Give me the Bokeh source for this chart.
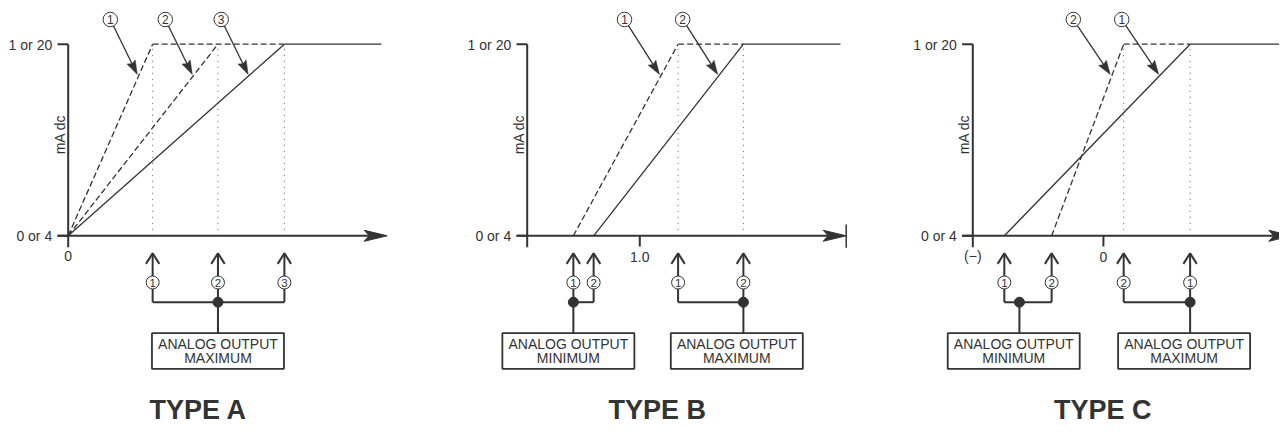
import math
from bokeh.plotting import figure
from bokeh.layouts import row
from bokeh.models import Range1d
from bokeh.embed import file_html
from bokeh.resources import INLINE
from bokeh.core.properties import value

# ---------------- data ----------------
Y_TICK_LABELS = ["0 or 4", "1 or 20"]
Y_TITLE = "mA dc"
BOX_TITLE = "ANALOG OUTPUT"
TYPE_NAMES = ["TYPE A", "TYPE B", "TYPE C"]

# input value where output leaves 0/4 mA (min) and reaches 1/20 mA (max)
TYPE_A_MIN = [0.0, 0.0, 0.0]
TYPE_A_MAX = [0.75, 1.33, 1.92]
TYPE_A_IDS = ["1", "2", "3"]

TYPE_B_MIN = [0.41, 0.59]
TYPE_B_MAX = [1.34, 1.92]
TYPE_B_IDS = ["1", "2"]

TYPE_C_MIN = [-0.88, -0.46]
TYPE_C_MAX = [0.77, 0.18]
TYPE_C_IDS = ["1", "2"]

AXIS_X = [0.0, 0.0, -1.16]          # where the vertical axis crosses
AXIS_X_LABELS = ["0", "", "(\u2212)"]
X_TICKS = [[], [1.0], [0.0]]
X_TICK_LABELS = [[], ["1.0"], ["0"]]
C_MIN_JOIN = -0.746

# ---------------- layout / style ----------------
SX, SY = 112.6, 191.6     # px per data unit
INK = "#333333"
DOT = "#555555"
FONT = value("Liberation Sans")


def dx(px):
    return px / SX


def dy(px):
    return px / SY


def head(tx, ty, ux, uy, length, half_w, notch):
    nx, ny = -uy, ux
    pts = [(0, 0),
           (-length * ux + half_w * nx, -length * uy + half_w * ny),
           (-(length - notch) * ux, -(length - notch) * uy),
           (-length * ux - half_w * nx, -length * uy - half_w * ny)]
    return [tx + dx(a) for a, b in pts], [ty + dy(b) for a, b in pts]


def txt(p, x, y, t, size="14px", align="center", baseline="middle", **kw):
    p.text(x=x, y=y, text=t, text_font=FONT, text_font_size=size,
           text_align=align, text_baseline=baseline, text_color=INK, **kw)


def panel(idx, mins, maxs, ids, left_px, width_px, groups, leader_dx, end_bar):
    ax = AXIS_X[idx]
    x0 = ax - dx(left_px)
    p = figure(width=width_px, height=424,
               x_range=Range1d(x0, x0 + dx(width_px)),
               y_range=Range1d(-dy(188.7), dy(235.3)),
               output_backend="svg", toolbar_location=None,
               x_axis_type=None, y_axis_type=None, min_border=0,
               outline_line_color=None, background_fill_color="white",
               border_fill_color="white")
    p.grid.visible = False

    # dotted guides at saturation points
    p.multi_line(xs=[[m, m] for m in maxs], ys=[[0, 1] for _ in maxs],
                 line_color=DOT, line_width=1, line_dash="1 5")

    # ramps
    widest = max(range(len(maxs)), key=lambda i: maxs[i])
    for i in range(len(maxs)):
        p.line([mins[i], maxs[i]], [0, 1], line_color=INK, line_width=1.3,
               line_dash="solid" if i == widest else "6 3")
    p.line([min(maxs), max(maxs)], [1, 1], line_color=INK, line_width=1.3,
           line_dash="6 3")
    p.line([max(maxs), ax + dx(313.3)], [1, 1], line_color=INK, line_width=1.3)

    # axes
    tip = ax + dx(319)
    p.line([ax - dx(10.7), tip - dx(12)], [0, 0], line_color=INK, line_width=2)
    p.line([ax, ax], [1, -dy(11.4)], line_color=INK, line_width=2)
    p.multi_line(xs=[[ax - dx(10.7), ax], [ax - dx(10.7), ax]], ys=[[0, 0], [1, 1]],
                 line_color=INK, line_width=2)
    hx, hy = head(tip, 0, 1, 0, 23, 5.5, 5)
    p.patch(hx, hy, fill_color=INK, line_color=INK, line_width=1)
    if end_bar:
        p.line([tip, tip], [dy(11.3), -dy(12)], line_color=INK, line_width=1.5)
    for t in X_TICKS[idx]:
        p.line([t, t], [0, -dy(10.7)], line_color=INK, line_width=2)
    txt(p, X_TICKS[idx], [-dy(21.4)] * len(X_TICKS[idx]), X_TICK_LABELS[idx])
    if AXIS_X_LABELS[idx]:
        txt(p, [ax], [-dy(20.5)], [AXIS_X_LABELS[idx]])
    txt(p, [ax - dx(16), ax - dx(16)], [0, 1 - dy(1)], Y_TICK_LABELS, align="right")
    txt(p, [ax - dx(8.4)], [dy(101.3)], [Y_TITLE], angle=math.pi / 2)

    # callouts with leaders
    ty = dy(161.3)
    for i in range(len(maxs)):
        tx = mins[i] + (maxs[i] - mins[i]) * ty - dx(2)
        vx, vy = leader_dx, -55.0
        n = math.hypot(vx, vy)
        ux, uy = vx / n, vy / n
        cx, cy = tx - dx(vx), ty - dy(vy)
        p.line([cx + dx(7 * ux), tx - dx(10 * ux)], [cy + dy(7 * uy), ty - dy(10 * uy)],
               line_color=INK, line_width=1.3)
        hx, hy = head(tx, ty, ux, uy, 14, 4.6, 2)
        p.patch(hx, hy, fill_color=INK, line_color=INK, line_width=0.5)
        p.scatter([cx], [cy], size=14.5, marker="circle", fill_color="white",
                  line_color=INK, line_width=1)
        txt(p, [cx], [cy], [ids[i]], size="12px")

    # setting groups below the axis
    y_tip, y_circ, y_bar = -dy(17.4), -dy(46.7), -dy(66.4)
    y_box_top, y_box = -dy(97.4), -dy(115.2)
    for label2, xs, gid, join_x, box_x in groups:
        for x in xs:
            p.line([x, x], [y_tip, y_bar], line_color=INK, line_width=2)
            p.line([x - dx(6.7), x, x + dx(6.7)], [y_tip - dy(10.7), y_tip, y_tip - dy(10.7)],
                   line_color=INK, line_width=2)
        p.line([min(xs), max(xs)], [y_bar, y_bar], line_color=INK, line_width=2)
        p.line([join_x, join_x], [y_bar, y_box_top], line_color=INK, line_width=2)
        p.scatter([join_x], [y_bar], size=10, marker="circle", fill_color=INK,
                  line_color=INK)
        p.scatter(xs, [y_circ] * len(xs), size=13, marker="circle",
                  fill_color="white", line_color=INK, line_width=1)
        txt(p, xs, [y_circ] * len(xs), gid, size="11.5px")
        p.rect([box_x], [y_box], width=132, height=35.6, width_units="screen",
               height_units="screen", fill_color="white", line_color=INK, line_width=1.8)
        txt(p, [box_x, box_x], [y_box + dy(7.5), y_box - dy(7.3)], [BOX_TITLE, label2])

    p.text(x=[ax + dx(130)], y=[-dy(174.5)], text=[TYPE_NAMES[idx]], text_font=FONT,
           text_font_size="27px", text_font_style="bold", text_align="center",
           text_baseline="middle", text_color=INK)
    return p


pa = panel(0, TYPE_A_MIN, TYPE_A_MAX, TYPE_A_IDS, 67.7, 430,
           [("MAXIMUM", TYPE_A_MAX, TYPE_A_IDS, TYPE_A_MAX[1], TYPE_A_MAX[1])],
           27, False)
pb = panel(1, TYPE_B_MIN, TYPE_B_MAX, TYPE_B_IDS, 96.7, 430,
           [("MINIMUM", TYPE_B_MIN, TYPE_B_IDS, TYPE_B_MIN[0], TYPE_B_MIN[0] - dx(5)),
            ("MAXIMUM", TYPE_B_MAX, TYPE_B_IDS, TYPE_B_MAX[1], TYPE_B_MAX[1] - dx(6.6))],
           35, True)
pc = panel(2, TYPE_C_MIN, TYPE_C_MAX, TYPE_C_IDS, 112.3, 419,
           [("MINIMUM", TYPE_C_MIN, TYPE_C_IDS, C_MIN_JOIN, C_MIN_JOIN - dx(5.7)),
            ("MAXIMUM", TYPE_C_MAX, TYPE_C_IDS, TYPE_C_MAX[0], TYPE_C_MAX[0] - dx(6))],
           37, False)

layout = row(pa, pb, pc)
open("out.html", "w").write(file_html(layout, INLINE))
